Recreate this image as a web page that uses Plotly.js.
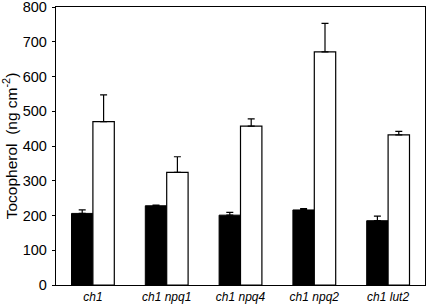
<!DOCTYPE html>
<html><head><meta charset="utf-8">
<script src="https://cdn.plot.ly/plotly-3.0.1.min.js"></script>
<style>body{margin:0;background:#fff}#c{width:427px;height:304px}</style>
</head><body><div id="c"></div>
<script>
const categories = ['ch1', 'ch1 npq1', 'ch1 npq4', 'ch1 npq2', 'ch1 lut2'];
const blackValues = [206, 228, 201, 216, 185];
const blackErrors = [10, 2, 8, 4, 13];
const whiteValues = [470, 324, 457, 671, 432];
const whiteErrors = [77, 45, 21, 82, 10];
const yTicks = [0, 100, 200, 300, 400, 500, 600, 700, 800];

const idx = categories.map((c, i) => i);
const tickText = categories.map(c => '<i>' + c + '</i>');

const errStyle = (arr) => ({type: 'data', array: arr, arrayminus: arr.map(() => 0), symmetric: false,
  color: '#000', thickness: 1.2, width: 3.5, visible: true});

const traces = [
  {type: 'bar', x: idx, y: blackValues, error_y: errStyle(blackErrors),
   marker: {color: '#000', line: {color: '#000', width: 1}}, showlegend: false},
  {type: 'bar', x: idx, y: whiteValues, error_y: errStyle(whiteErrors),
   marker: {color: '#fff', line: {color: '#000', width: 1.2}}, showlegend: false}
];

const layout = {
  width: 427, height: 304,
  margin: {l: 56, r: 2, t: 7, b: 19},
  paper_bgcolor: '#fff', plot_bgcolor: '#fff',
  barmode: 'group', bargap: 0.42, bargroupgap: 0,
  font: {family: 'Arial', color: '#000'},
  xaxis: {range: [-0.5, 4.5], tickvals: idx, ticktext: tickText, ticks: '',
    showline: true, linecolor: '#000', linewidth: 1.2, mirror: true,
    showgrid: false, zeroline: false, tickfont: {size: 12, family: 'Arial'}},
  yaxis: {range: [0, 800], tickvals: yTicks, ticks: 'outside', ticklen: 3, tickcolor: '#000',
    ticklabeloverflow: 'allow', ticklabelstandoff: 2,
    showline: true, linecolor: '#000', linewidth: 1.2, mirror: true,
    showgrid: false, zeroline: false, tickfont: {size: 14.5, family: 'Arial'},
    title: {text: 'Tocopherol  (ng cm<sup>-2</sup>)', font: {size: 15.5, family: 'Arial'}, standoff: 4}}
};

Plotly.newPlot('c', traces, layout, {displayModeBar: false, staticPlot: true});
</script></body></html>
